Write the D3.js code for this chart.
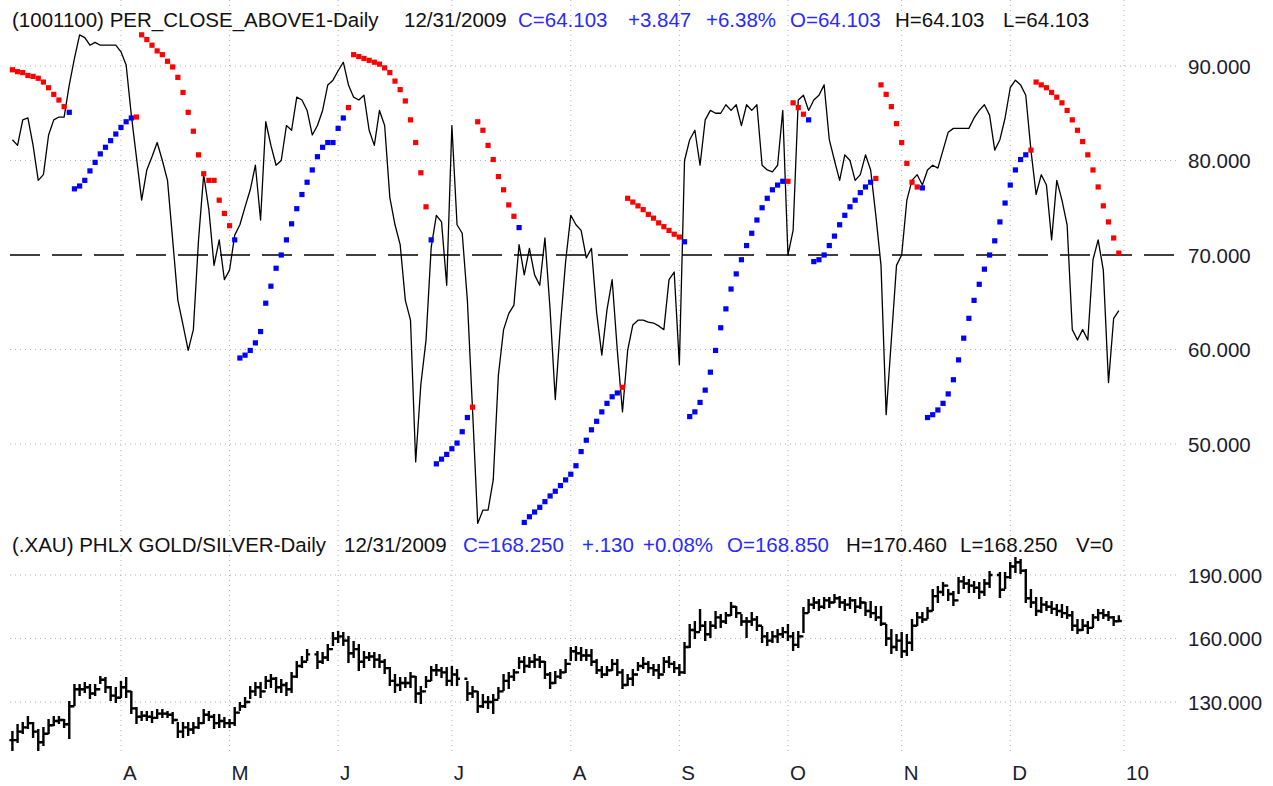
<!DOCTYPE html>
<html>
<head>
<meta charset="utf-8">
<script src="https://cdn.jsdelivr.net/npm/d3@7"></script>
<style>
body { margin: 0; background: #fff; }
svg { display: block; font-family: "Liberation Sans", Arial, sans-serif; }
.grid { stroke: #b0b0b0; stroke-width: 1; stroke-dasharray: 1 4; fill: none; }
.axisLabel { font-size: 20.5px; fill: #1c1c2c; }
.legend { font-size: 20.5px; }
</style>
</head>
<body>
<svg id="chart" width="1273" height="786"></svg>
<script>
// one slot per session, Mar 3 2009 .. Dec 31 2009 (May 25, Jul 3, Nov 26 hold a slot)
const monthTicks = [
    {index: 21, label: 'A'}, {index: 42, label: 'M'}, {index: 63, label: 'J'},
    {index: 85, label: 'J'}, {index: 108, label: 'A'}, {index: 129, label: 'S'},
    {index: 150, label: 'O'}, {index: 172, label: 'N'}, {index: 193, label: 'D'},
    {index: 215, label: '10'}
];
const upperTicks = [50, 60, 70, 80, 90];
const lowerTicks = [130, 160, 190];
const referenceLevel = 70;

const perClose = [
    82.2, 81.6, 84.3, 84.5, 81.6, 77.9, 78.5, 82.7, 84.3, 84.6,
    84.6, 88.0, 90.8, 93.3, 93.0, 92.2, 92.5, 92.2, 92.2, 92.2,
    92.2, 91.5, 90.1, 84.8, 80.3, 75.8, 79.0, 80.4, 81.9, 80.0,
    77.9, 71.6, 65.2, 62.6, 59.9, 62.1, 71.6, 78.5, 74.8, 68.9,
    71.6, 67.4, 68.4, 72.1, 73.2, 75.1, 76.9, 79.5, 73.7, 84.1,
    81.6, 79.5, 80.0, 83.7, 83.2, 86.7, 86.4, 85.3, 82.7, 83.7,
    85.3, 88.0, 88.5, 89.5, 90.4, 88.0, 86.7, 86.4, 86.9, 83.2,
    81.6, 85.3, 83.7, 76.1, 73.2, 71.1, 65.2, 63.1, 48.1, 56.3,
    61.0, 70.8, 74.2, 73.5, 66.8, 83.7, 73.2, 72.3, 65.2, 53.6,
    41.6, 43.0, 43.0, 46.2, 57.3, 62.1, 63.8, 64.7, 71.1, 67.9,
    70.7, 67.9, 66.8, 71.8, 64.2, 54.7, 62.6, 69.3, 74.2, 73.2,
    72.6, 69.7, 70.7, 63.9, 59.4, 64.2, 67.4, 59.9, 53.4, 59.9,
    62.6, 63.1, 63.1, 62.9, 62.8, 62.5, 62.1, 67.4, 68.2, 58.4,
    80.0, 82.2, 83.2, 79.5, 84.3, 85.3, 85.0, 85.0, 85.9, 85.3,
    85.9, 83.7, 85.9, 85.3, 85.9, 79.5, 79.0, 78.8, 79.5, 85.3,
    70.0, 72.6, 86.4, 86.9, 85.3, 86.4, 86.9, 88.0, 82.2, 80.0,
    77.9, 80.6, 80.0, 77.9, 78.5, 80.6, 79.0, 74.2, 68.9, 53.1,
    61.0, 68.9, 70.0, 75.8, 77.9, 78.5, 77.4, 79.0, 79.5, 79.2,
    81.1, 83.0, 83.4, 83.4, 83.4, 83.4, 84.5, 85.3, 85.9, 84.8,
    81.1, 82.2, 84.5, 87.7, 88.5, 88.0, 86.9, 81.1, 76.4, 78.5,
    77.4, 71.6, 77.9, 75.8, 73.2, 62.1, 61.0, 62.1, 61.0, 69.5,
    71.6, 68.4, 56.5, 63.3, 64.103
];

const sarValues = [
    89.6, 89.4, 89.3, 89.0, 88.9, 88.7, 88.3, 87.7, 87.0, 86.4,
    85.7, 85.1, 77.0, 77.3, 77.9, 78.9, 79.8, 80.7, 81.4, 82.1,
    82.8, 83.5, 84.1, 84.5, 84.6, 93.3, 92.8, 92.2, 91.6, 91.2,
    90.5, 89.9, 88.8, 87.2, 85.1, 83.1, 80.6, 78.6, 77.9, 77.9,
    75.8, 74.4, 73.1, 71.6, 59.1, 59.4, 59.9, 60.7, 61.9, 64.9,
    66.7, 68.6, 70.0, 71.6, 73.3, 74.9, 76.4, 77.7, 79.0, 80.4,
    81.4, 81.9, 81.9, 83.4, 84.5, 85.6, 91.2, 91.0, 90.8, 90.6,
    90.4, 90.2, 89.8, 89.3, 88.4, 87.5, 86.3, 84.3, 81.9, 78.7,
    75.1, 71.6, 47.9, 48.4, 48.9, 49.5, 50.1, 51.3, 52.8, 53.9,
    84.1, 83.2, 81.6, 80.1, 78.3, 76.9, 75.3, 74.1, 72.9, 41.7,
    42.3, 42.8, 43.3, 43.9, 44.5, 45.0, 45.6, 46.2, 46.8, 47.7,
    49.2, 50.4, 51.5, 52.4, 53.4, 54.3, 55.0, 55.4, 56.0, 76.0,
    75.6, 75.2, 74.8, 74.3, 73.9, 73.4, 73.0, 72.6, 72.2, 71.9,
    71.4, 52.9, 53.4, 54.4, 55.7, 57.6, 59.9, 62.3, 64.3, 66.4,
    68.0, 69.5, 71.0, 72.3, 73.7, 75.0, 76.0, 76.9, 77.4, 77.8,
    77.8, 86.1, 85.6, 84.9, 84.3, 69.3, 69.5, 70.0, 71.0, 72.0,
    73.2, 74.2, 75.1, 75.8, 76.6, 77.2, 77.7, 78.1, 88.0, 87.0,
    85.7, 83.9, 81.9, 79.7, 77.7, 77.2, 77.1, 52.8, 53.1, 53.6,
    54.3, 55.3, 56.8, 58.9, 61.2, 63.3, 65.2, 66.9, 68.5, 70.0,
    71.5, 73.5, 75.5, 77.4, 79.0, 80.1, 80.6, 81.1, 88.3, 88.0,
    87.7, 87.2, 86.7, 86.1, 85.3, 84.3, 83.2, 82.0, 80.6, 79.0,
    77.2, 75.2, 73.5, 71.8, 70.2
];

// first slot of each run of dots and whether the run sits above or below
const sarTrend = [
    [0, 'above'], [11, 'below'], [24, 'above'], [43, 'below'], [65, 'above'],
    [81, 'below'], [89, 'above'], [98, 'below'], [118, 'above'], [130, 'below'],
    [150, 'above'], [154, 'below'], [167, 'above'], [176, 'below'], [197, 'above']
];

const xauHigh = [
    115.8, 119.1, 120.1, 122.9, 120.1, 116.8, 117.7, 121.5, 122.9, 122.9,
    121.5, 130.0, 138.0, 138.0, 139.0, 138.0, 138.0, 141.8, 141.3, 137.1,
    136.6, 139.5, 141.3, 134.7, 127.2, 125.3, 125.3, 125.3, 126.2, 126.2,
    125.3, 124.8, 120.1, 120.1, 120.1, 120.1, 122.4, 126.2, 125.3, 123.9,
    123.9, 122.4, 121.5, 127.2, 129.5, 131.9, 137.1, 139.0, 139.0, 141.8,
    142.8, 141.3, 140.4, 139.0, 143.7, 148.9, 151.3, 154.6, null, 153.6,
    153.2, 156.9, 162.6, 163.1, 162.6, 160.7, 158.3, 156.9, 153.6, 153.2,
    153.2, 152.2, 149.8, 146.1, 142.8, 141.3, 141.3, 143.7, 141.8, 137.1,
    141.8, 146.5, 147.5, 146.1, 146.1, 146.5, 145.1, null, 139.5, 137.1,
    134.7, 133.3, 132.4, 133.3, 136.6, 142.8, 143.7, 145.1, 150.8, 151.3,
    150.8, 152.2, 151.3, 148.9, 143.7, 144.2, 145.1, 149.8, 155.5, 156.0,
    155.5, 154.6, 154.6, 149.8, 146.5, 146.5, 149.8, 149.8, 145.1, 142.8,
    145.1, 148.4, 150.8, 148.9, 147.5, 147.5, 150.8, 151.3, 148.9, 147.5,
    157.9, 166.4, 167.8, 173.5, 167.8, 167.8, 172.5, 171.1, 172.0, 176.8,
    174.9, 171.1, 169.7, 172.0, 170.2, 165.4, 162.6, 163.1, 164.0, 165.0,
    166.4, 162.6, 163.1, 174.4, 178.2, 179.1, 178.2, 179.1, 179.1, 180.6,
    179.6, 178.2, 179.1, 178.2, 179.1, 176.8, 177.2, 174.9, 174.9, 166.4,
    164.0, 161.7, 162.6, 161.7, 168.7, 172.0, 172.0, 174.4, 182.9, 184.3,
    186.2, 182.9, 182.0, 188.6, 189.1, 187.6, 186.7, 186.2, 187.6, 191.4,
    null, 190.9, 190.9, 195.7, 198.0, 197.1, 192.4, 182.9, 179.1, 179.1,
    177.2, 177.2, 175.8, 175.8, 174.9, 172.5, 168.7, 168.7, 167.8, 171.1,
    173.5, 173.5, 172.5, 170.2, 170.46
];

const xauLow = [
    107.3, 111.1, 115.4, 117.7, 113.5, 107.3, 109.7, 115.4, 119.1, 120.1,
    118.2, 113.0, 128.6, 133.3, 134.7, 131.9, 133.3, 139.0, 134.7, 131.0,
    130.0, 132.4, 132.4, 124.8, 120.1, 121.5, 121.5, 120.6, 122.4, 122.9,
    122.9, 120.1, 113.5, 113.5, 114.4, 115.4, 117.7, 120.1, 121.5, 117.7,
    118.2, 118.2, 118.2, 119.1, 126.2, 127.6, 131.9, 133.3, 132.4, 136.6,
    137.1, 134.7, 134.7, 133.3, 134.7, 141.8, 146.5, 149.8, null, 146.1,
    148.4, 149.8, 156.9, 158.3, 156.9, 148.9, 151.3, 145.1, 146.5, 149.8,
    146.5, 146.5, 143.7, 138.0, 134.7, 135.7, 137.1, 137.1, 130.0, 129.5,
    137.1, 140.4, 142.8, 141.8, 138.0, 138.0, 138.0, null, 131.0, 132.4,
    125.3, 127.6, 127.2, 124.8, 131.9, 135.7, 136.6, 140.4, 146.1, 144.2,
    146.5, 146.5, 146.5, 141.3, 136.6, 139.0, 141.3, 144.2, 149.8, 149.8,
    149.8, 149.8, 147.5, 143.7, 141.8, 142.8, 145.1, 142.8, 136.6, 138.0,
    138.0, 145.1, 146.1, 144.2, 142.8, 141.3, 144.2, 146.5, 144.2, 142.8,
    143.7, 156.0, 160.2, 164.0, 159.3, 160.7, 165.0, 165.4, 167.3, 171.1,
    170.2, 166.4, 160.7, 166.4, 164.0, 158.3, 156.9, 158.3, 158.3, 160.7,
    159.3, 154.6, 156.0, 163.1, 172.5, 174.4, 173.5, 174.4, 174.9, 177.2,
    174.9, 173.5, 174.4, 172.5, 174.4, 171.1, 170.2, 168.7, 166.4, 156.9,
    153.2, 154.6, 151.3, 152.2, 154.6, 166.4, 167.8, 169.7, 173.5, 177.2,
    180.6, 178.2, 175.8, 181.5, 183.9, 182.0, 182.0, 179.1, 180.6, 184.3,
    null, 179.6, 183.9, 188.6, 191.4, 190.9, 177.2, 174.9, 171.1, 172.5,
    173.5, 172.0, 171.1, 170.2, 169.7, 164.0, 162.6, 164.0, 162.6, 165.4,
    168.7, 169.7, 168.7, 166.4, 168.25
];

const xauClose = [
    112, 116, 118, 120, 116, 111, 115, 119, 121, 121.5,
    119.5, 128, 136, 136, 137, 134, 136, 140.5, 137, 133,
    132, 137, 135, 127, 123, 123.5, 123, 122.5, 124.5, 124.5,
    124, 121.5, 116, 118, 117, 118, 120, 124, 123, 120,
    121, 120, 120, 125, 128, 130, 135, 137, 135, 140,
    141, 137, 138, 136, 142, 147, 149, 152.5, null, 149,
    151, 155, 160, 161, 159, 153, 155, 149, 151, 151.5,
    150, 149, 146, 140, 138, 139, 139, 142, 134, 135,
    140, 145, 145, 144, 140, 143, 141, null, 134, 135,
    128, 130, 130, 131, 135, 140, 142, 144, 149, 147,
    149, 150, 149, 143, 139, 142, 144, 148, 154, 153,
    152, 152, 149, 145, 143, 145, 148, 144, 138, 141,
    143, 147, 148, 146, 145, 143, 149, 148, 146, 144,
    156, 164, 163, 166, 162, 166, 170, 168, 171, 175,
    172, 168, 168, 169, 166, 161, 159, 161, 162, 163,
    161, 157, 161, 172, 176, 177, 175, 178, 177, 179,
    177, 176, 178, 175, 177, 173, 172, 170, 167, 160,
    156, 159, 154, 158, 166, 170, 169, 173, 180, 182,
    185, 181, 178, 187, 186, 185, 184, 182, 186, 190,
    null, 183, 189, 194, 196, 192, 179, 177, 173, 176,
    175, 174, 173, 172, 171, 166, 164, 166, 165, 170,
    172, 171, 170, 168.12, 168.25
];

const upperLegend = [
    ['(1001100) PER_CLOSE_ABOVE1-Daily', 'plain'], ['12/31/2009', 'plain'],
    ['C=64.103', 'quote'], ['+3.847', 'quote'], ['+6.38%', 'quote'], ['O=64.103', 'quote'],
    ['H=64.103', 'plain'], ['L=64.103', 'plain']
];
const lowerLegend = [
    ['(.XAU) PHLX GOLD/SILVER-Daily', 'plain'], ['12/31/2009', 'plain'],
    ['C=168.250', 'quote'], ['+.130', 'quote'], ['+0.08%', 'quote'], ['O=168.850', 'quote'],
    ['H=170.460', 'plain'], ['L=168.250', 'plain'], ['V=0', 'plain']
];

const upperLegendX = [12, 404, 518, 628, 706, 790, 895, 1003];
const lowerLegendX = [12, 344, 463, 582, 643, 727, 846, 960, 1076];
const legendColor = {plain: '#111', quote: '#2a2aff'};

const gridLeft = 10;
const gridRight = 1177;
const labelX = 1188;

const svg = d3.select('#chart');

const x = d3.scaleLinear()
    .domain([0, 215])
    .range([12.4, 1124]);

const yTop = d3.scaleLinear()
    .domain([50, 90])
    .range([444, 66]);

const yBottom = d3.scaleLinear()
    .domain([130, 190])
    .range([702, 575]);

const fmt = d3.format('.3f');

// GRID

svg.append('g')
    .selectAll('line')
    .data(monthTicks)
    .enter()
    .append('line')
    .attr('class', 'grid')
    .attr('x1', d => x(d.index))
    .attr('x2', d => x(d.index))
    .attr('y1', 0)
    .attr('y2', 752);

svg.append('g')
    .selectAll('line')
    .data(upperTicks.filter(v => v !== referenceLevel))
    .enter()
    .append('line')
    .attr('class', 'grid')
    .attr('x1', gridLeft)
    .attr('x2', gridRight)
    .attr('y1', d => yTop(d))
    .attr('y2', d => yTop(d));

svg.append('g')
    .selectAll('line')
    .data(lowerTicks)
    .enter()
    .append('line')
    .attr('class', 'grid')
    .attr('x1', gridLeft)
    .attr('x2', gridRight)
    .attr('y1', d => yBottom(d))
    .attr('y2', d => yBottom(d));

svg.append('line')
    .attr('x1', gridLeft)
    .attr('x2', gridRight)
    .attr('y1', yTop(referenceLevel))
    .attr('y2', yTop(referenceLevel))
    .attr('stroke', '#000')
    .attr('stroke-width', 1.6)
    .attr('stroke-dasharray', '30 12');

// AXIS LABELS

svg.append('g')
    .selectAll('text')
    .data(upperTicks)
    .enter()
    .append('text')
    .attr('class', 'axisLabel')
    .attr('x', labelX)
    .attr('y', d => yTop(d) + 7.5)
    .text(d => fmt(d));

svg.append('g')
    .selectAll('text')
    .data(lowerTicks)
    .enter()
    .append('text')
    .attr('class', 'axisLabel')
    .attr('x', labelX)
    .attr('y', d => yBottom(d) + 7.5)
    .text(d => fmt(d));

svg.append('g')
    .selectAll('text')
    .data(monthTicks)
    .enter()
    .append('text')
    .attr('class', 'axisLabel')
    .attr('x', d => x(d.index) + 2)
    .attr('y', 780)
    .text(d => d.label);

// XAU BARS

const xauBars = [];
let prevClose = null;
xauHigh.forEach((h, i) => {
    if (h === null) {
        return;
    }
    xauBars.push({
        i: i,
        high: h,
        low: xauLow[i],
        close: xauClose[i],
        open: prevClose === null ? xauClose[i] : prevClose
    });
    prevClose = xauClose[i];
});

svg.append('g')
    .selectAll('path')
    .data(xauBars)
    .enter()
    .append('path')
    .attr('fill', 'none')
    .attr('stroke', '#000')
    .attr('stroke-width', 2.4)
    .attr('d', d => {
        const cx = x(d.i);
        return `M${cx},${yBottom(d.high) - 1}V${yBottom(d.low) + 1}` +
            `M${cx - 3},${yBottom(d.open)}H${cx}` +
            `M${cx},${yBottom(d.close)}H${cx + 3}`;
    });

// INDICATOR LINE

const line = d3.line()
    .x((d, i) => x(i))
    .y(d => yTop(d));

svg.append('path')
    .datum(perClose)
    .attr('fill', 'none')
    .attr('stroke', '#000')
    .attr('stroke-width', 1.3)
    .attr('stroke-linejoin', 'round')
    .attr('d', line);

// SAR DOTS

function sideAt (i) {
    let side = sarTrend[0][1];
    sarTrend.forEach(seg => {
        if (seg[0] <= i) {
            side = seg[1];
        }
    });
    return side;
}

svg.append('g')
    .selectAll('rect')
    .data(sarValues)
    .enter()
    .append('rect')
    .attr('x', (d, i) => x(i) - 2.6)
    .attr('y', d => yTop(d) - 2.6)
    .attr('width', 5.2)
    .attr('height', 5.2)
    .attr('fill', (d, i) => sideAt(i) === 'above' ? '#ff0000' : '#0000ff');

// LEGENDS

svg.append('g')
    .selectAll('text')
    .data(upperLegend)
    .enter()
    .append('text')
    .attr('class', 'legend')
    .attr('x', (d, i) => upperLegendX[i])
    .attr('y', 27)
    .attr('fill', d => legendColor[d[1]])
    .text(d => d[0]);

svg.append('g')
    .selectAll('text')
    .data(lowerLegend)
    .enter()
    .append('text')
    .attr('class', 'legend')
    .attr('x', (d, i) => lowerLegendX[i])
    .attr('y', 552)
    .attr('fill', d => legendColor[d[1]])
    .text(d => d[0]);
</script>
</body>
</html>
